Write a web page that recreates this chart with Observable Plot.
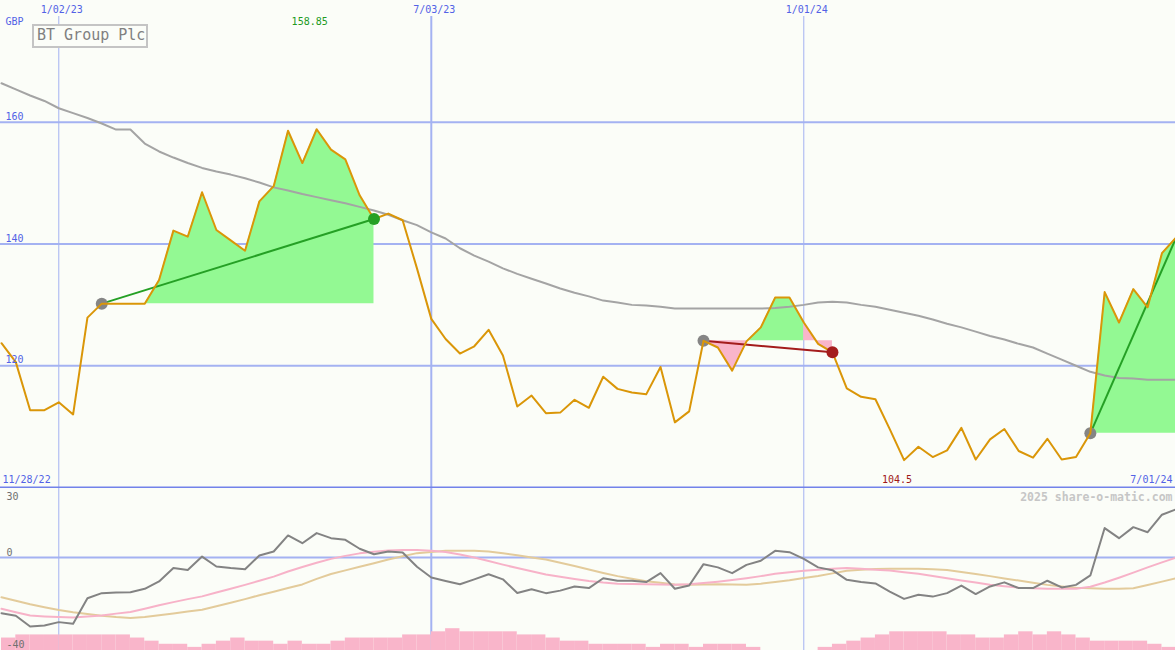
<!DOCTYPE html>
<html><head><meta charset="utf-8">
<script src="https://cdn.jsdelivr.net/npm/d3@7"></script>
<script src="https://cdn.jsdelivr.net/npm/@observablehq/plot@0.6"></script>
<style>
html,body{margin:0;padding:0;background:#fbfdf8;overflow:hidden;}
#wrap{position:relative;width:1175px;height:650px;overflow:hidden;}
#upper{position:absolute;left:0;top:0;}
#vol{position:absolute;left:0;top:488px;}
#osc{position:absolute;left:0;top:488px;}
#title{position:absolute;left:32px;top:24px;width:116px;height:24px;box-sizing:border-box;border:2px solid #c4c4c4;font:15px "DejaVu Sans Mono",monospace;color:#808080;line-height:18px;padding-left:3px;background:#fbfdf8;white-space:nowrap;}
svg{display:block}
</style></head><body>
<div id="wrap"><div id="upper"></div><div id="vol"></div><div id="osc"></div><div id="title">BT Group Plc</div></div>
<script>
// ---------- data (weekly, first week 2022-12-05) ----------
const firstWeek = "2022-12-05";
const price = [123.7,120.6,112.7,112.7,114.0,112.0,127.9,130.2,130.2,
  130.2,130.2,134.1,142.2,141.2,148.5,142.3,140.6,138.9,147.0,
  149.5,158.6,153.3,158.85,155.5,153.9,148.0,144.1,145.0,143.9,
  136.0,127.7,124.4,122.0,123.2,125.9,121.7,113.3,115.1,112.2,
  112.3,114.4,113.1,118.2,116.2,115.6,115.3,119.8,110.7,112.5,
  124.1,123.0,119.2,124.0,126.3,131.2,131.2,127.1,123.6,122.2,
  116.3,114.9,114.5,109.6,104.5,106.7,105.0,106.1,109.8,104.6,
  107.9,109.6,106.0,104.9,108.0,104.6,105.0,108.9,132.1,127.1,
  132.6,129.6,138.5,141.1];
const movingAvg = [166.4,165.4,164.4,163.5,162.3,161.5,160.7,159.8,158.8,
  158.8,156.5,155.2,154.2,153.3,152.5,151.9,151.4,150.8,150.1,
  149.3,148.8,148.2,147.7,147.2,146.7,146.1,145.5,144.8,143.9,
  143.1,141.9,140.9,139.3,138.1,137.1,136.0,135.1,134.3,133.5,
  132.7,132.0,131.4,130.7,130.4,130.0,129.9,129.7,129.4,129.4,
  129.4,129.4,129.4,129.4,129.4,129.5,129.7,130.0,130.4,130.5,
  130.4,130.0,129.7,129.2,128.7,128.2,127.6,126.9,126.3,125.6,
  124.9,124.3,123.6,123.0,122.0,121.0,120.0,119.0,118.4,118.0,
  117.9,117.7,117.7,117.7];
const oscMain = [-24.2,-25.3,-30.0,-29.6,-28.1,-28.8,-17.7,-15.5,-15.2,
  -15.1,-13.6,-10.4,-4.6,-5.4,0.4,-3.9,-4.6,-5.1,0.9,
  2.6,9.6,6.2,10.6,8.4,7.7,3.8,1.4,2.6,2.2,
  -4.0,-8.7,-10.2,-11.6,-9.5,-7.3,-9.5,-15.4,-13.8,-15.5,
  -14.4,-12.6,-13.3,-9.0,-10.1,-10.1,-10.7,-6.8,-13.6,-12.2,
  -2.9,-4.3,-6.8,-3.2,-1.4,2.9,2.3,-0.6,-4.3,-5.5,
  -9.7,-10.7,-11.3,-14.8,-18.0,-16.2,-17.0,-15.5,-12.2,-15.9,
  -12.6,-10.8,-13.3,-13.3,-10.1,-13.0,-11.9,-7.8,12.8,8.4,
  13.2,11.0,18.6,21.0];
const oscFast = [-22.3,-23.8,-25.2,-25.6,-25.9,-26.1,-25.7,-25.2,-24.4,
  -23.7,-22.3,-20.8,-19.4,-18.1,-16.9,-15.2,-13.6,-11.9,-10.1,
  -8.3,-6.1,-4.1,-2.3,-0.6,0.7,1.8,2.5,3.0,3.3,
  3.3,2.9,2.4,1.3,0.0,-1.5,-3.1,-4.6,-6.0,-7.4,
  -8.4,-9.3,-10.2,-10.9,-11.4,-11.5,-11.6,-11.7,-11.9,-11.6,
  -11.1,-10.5,-9.8,-9.0,-8.1,-7.1,-6.4,-5.8,-5.3,-4.9,
  -4.6,-4.9,-5.3,-5.7,-6.4,-7.1,-8.0,-9.0,-10.0,-10.9,
  -11.8,-12.5,-13.1,-13.4,-13.6,-13.6,-13.6,-12.7,-10.9,-8.8,
  -6.6,-4.3,-2.1,0.0];
const oscSlow = [-17.3,-18.8,-20.3,-21.6,-22.8,-23.8,-24.6,-25.3,-25.9,
  -26.3,-25.9,-25.1,-24.3,-23.5,-22.7,-21.2,-19.7,-18.1,-16.4,
  -14.9,-13.3,-11.7,-9.3,-7.2,-5.6,-4.0,-2.5,-0.9,0.5,
  1.9,2.4,2.9,2.9,2.9,2.6,1.8,1.0,0.0,-0.9,
  -2.3,-3.7,-5.2,-6.7,-8.1,-9.2,-10.3,-11.0,-11.7,-11.8,
  -11.7,-11.6,-11.7,-11.9,-11.4,-10.7,-9.9,-8.9,-8.0,-6.9,
  -5.8,-5.3,-5.0,-4.9,-4.9,-4.9,-5.1,-5.4,-6.3,-7.2,
  -8.1,-9.1,-10.0,-11.0,-11.9,-12.6,-13.2,-13.4,-13.6,-13.6,
  -13.4,-12.0,-10.5,-9.0];
// weekly volume level, one bar per week
const volumeLevel = [4, 5,5,5,5,5,5,5,5, 4, 3, 2,2, 1, 2, 3, 4, 3,3, 2, 3, 2,2, 3,
  4,4,4,4, 5,5, 6, 7, 6,6,6,6, 5,5, 4, 3,3, 2,2,2,2, 1, 2,2, 1, 2,2,2, 1,
  0,0,0,0, 1, 2, 3, 4, 5, 6,6,6,6, 5,5, 4,4, 5, 6, 5, 6, 5, 4, 3,3,3,3, 2, 1];
// trades (week index into the series: entry / exit)
const tradeEntry = [7, 49, 76];
const tradeExit = [26, 58, 82];
const tradeOutcome = ["win", "loss", "open"];
// shaded segments of each trade
const shadeFrom = [7, 49, 52, 56, 76];
const shadeTo = [26, 52, 56, 58, 82];
const shadeKind = ["up", "down", "up", "down", "up"];
const shadeTrade = [0, 1, 1, 1, 2];
// axis ticks / labels
const priceTicks = [120, 140, 160];
const oscTicks = [30, 0, -40];
const dateTicks = ["2023-01-02", "2023-07-03", "2024-01-01"];
const rangeLabels = ["11/28/22", "7/01/24"];
const currency = "GBP";
const copyright = "2025 share-o-matic.com";

// ---------- styling ----------
const BG = "#fbfdf8", GRID = "#a4b2f2", SEP = "#7282ea", BLUE = "#5262e6";
const GREEN_FILL = "#93f993", PINK = "#f9b5ca", PRICE = "#da9608", MA = "#a4a4a4";
const WIN = "#25a025", LOSS = "#a41c1c", ENTRY = "#858585";
const FONT = "DejaVu Sans Mono, monospace";

const parse = d3.utcParse("%Y-%m-%d");
const t0 = parse(firstWeek);
const dates = price.map((_, i) => d3.utcDay.offset(t0, 7 * i));
const ticks = dateTicks.map(parse);
const fmt = d3.utcFormat("%-m/%d/%y");
const xDomain = [new Date(Date.UTC(2022, 11, 4, 12, 30)), new Date(Date.UTC(2024, 5, 30, 14, 40))];

const rows = price.map((p, i) => ({date: dates[i], price: p, ma: movingAvg[i], osc: oscMain[i], fast: oscFast[i], slow: oscSlow[i]}));
const shadeRows = [];
shadeFrom.forEach((f, s) => {
  const base = price[tradeEntry[shadeTrade[s]]];
  for (let i = f; i <= shadeTo[s]; i++) shadeRows.push({date: dates[i], price: price[i], base, seg: s, kind: shadeKind[s]});
});
const trades = tradeEntry.map((e, t) => ({x1: dates[e], y1: price[e], x2: dates[tradeExit[t]], y2: price[tradeExit[t]], outcome: tradeOutcome[t]}));
const entries = tradeEntry.map(e => ({date: dates[e], price: price[e]}));
const exits = trades.filter(t => t.outcome !== "open").map(t => ({date: t.x2, price: t.y2, outcome: t.outcome}));
const iMax = d3.maxIndex(price), iMin = d3.minIndex(price);
const outcomeColor = o => o === "loss" ? LOSS : WIN;
const gridW = d => d.getUTCMonth() === 6 ? 2 : 1;

const upper = Plot.plot({
  width: 1175, height: 488, marginTop: 0, marginRight: 0, marginBottom: 1, marginLeft: 0,
  x: {type: "utc", domain: xDomain, axis: null},
  y: {domain: [100, 180], axis: null},
  color: {domain: ["up", "down"], range: [GREEN_FILL, PINK]},
  style: {background: BG, fontFamily: FONT, overflow: "visible"},
  marks: [
    Plot.ruleY(priceTicks, {stroke: GRID, strokeWidth: 2}),
    Plot.ruleX(ticks, {stroke: GRID, strokeWidth: gridW, insetTop: 16}),
    Plot.areaY(shadeRows, {x: "date", y1: "base", y2: "price", z: "seg", fill: "kind", curve: "linear"}),
    Plot.line(rows, {x: "date", y: "ma", stroke: MA, strokeWidth: 2}),
    Plot.link(trades, {x1: "x1", y1: "y1", x2: "x2", y2: "y2", stroke: d => outcomeColor(d.outcome), strokeWidth: 2}),
    Plot.dot(entries, {x: "date", y: "price", r: 6, fill: ENTRY}),
    Plot.line(rows, {x: "date", y: "price", stroke: PRICE, strokeWidth: 2}),
    Plot.dot(exits, {x: "date", y: "price", r: 6, fill: d => outcomeColor(d.outcome)}),
    Plot.ruleY([100], {stroke: SEP, strokeWidth: 2}),
    Plot.text(priceTicks, {y: d => d, text: d => String(d), frameAnchor: "left", textAnchor: "start", lineAnchor: "bottom", dx: 5, dy: -2.5, fill: BLUE, fontSize: 10}),
    Plot.text(ticks, {x: d => d, text: d => fmt(d), frameAnchor: "top", lineAnchor: "bottom", dx: 3, dy: 12.5, fill: BLUE, fontSize: 10}),
    Plot.text([currency], {text: d => d, frameAnchor: "top-left", textAnchor: "start", lineAnchor: "bottom", dx: 5, dy: 24.5, fill: BLUE, fontSize: 10}),
    Plot.text([iMax], {x: i => dates[i], text: i => String(price[i]), frameAnchor: "top", lineAnchor: "bottom", dx: -7, dy: 24.5, fill: "#229a22", fontSize: 10}),
    Plot.text([iMin], {x: i => dates[i], text: i => String(price[i]), frameAnchor: "bottom", lineAnchor: "bottom", dx: -7, dy: -4.5, fill: "#a01818", fontSize: 10}),
    Plot.text([rangeLabels[0]], {text: d => d, frameAnchor: "bottom-left", textAnchor: "start", lineAnchor: "bottom", dx: 2, dy: -4.5, fill: BLUE, fontSize: 10}),
    Plot.text([rangeLabels[1]], {text: d => d, frameAnchor: "bottom-right", textAnchor: "end", lineAnchor: "bottom", dx: -3, dy: -4.5, fill: BLUE, fontSize: 10})
  ]
});
document.getElementById("upper").append(upper);

const volRows = volumeLevel.map((v, i) => ({x1: dates[i], x2: dates[i + 1], v}));
const vol = Plot.plot({
  width: 1175, height: 162, marginTop: 0, marginRight: 0, marginBottom: 0, marginLeft: 0,
  x: {type: "utc", domain: xDomain, axis: null},
  y: {domain: [0, 52], axis: null},
  style: {background: BG, overflow: "visible"},
  marks: [
    Plot.ruleX(ticks, {stroke: GRID, strokeWidth: gridW}),
    Plot.rectY(volRows, {x1: "x1", x2: "x2", y: "v", fill: PINK})
  ]
});
document.getElementById("vol").append(vol);

const osc = Plot.plot({
  width: 1175, height: 162, marginTop: 0, marginRight: 0, marginBottom: 1, marginLeft: 0,
  x: {type: "utc", domain: xDomain, axis: null},
  y: {domain: [-40, 30], axis: null},
  style: {background: "transparent", fontFamily: FONT, overflow: "visible"},
  marks: [
    Plot.ruleY([0], {stroke: GRID, strokeWidth: 2}),
    Plot.line(rows, {x: "date", y: "slow", stroke: "#e3cb9b", strokeWidth: 2}),
    Plot.line(rows, {x: "date", y: "fast", stroke: "#f7b2c8", strokeWidth: 2}),
    Plot.line(rows, {x: "date", y: "osc", stroke: "#838383", strokeWidth: 2}),
    Plot.text(oscTicks.slice(0, 1), {y: d => d, text: d => String(d), frameAnchor: "left", textAnchor: "start", lineAnchor: "top", dx: 6, dy: 4, fill: "#707070", fontSize: 10}),
    Plot.text(oscTicks.slice(1), {y: d => d, text: d => String(d), frameAnchor: "left", textAnchor: "start", lineAnchor: "bottom", dx: 6, dy: -2, fill: "#707070", fontSize: 10}),
    Plot.text([copyright], {text: d => d, frameAnchor: "top-right", textAnchor: "end", lineAnchor: "bottom", dx: -3, dy: 12, fill: "#c6c6c6", fontSize: 11.5, fontWeight: "bold"})
  ]
});
document.getElementById("osc").append(osc);
</script></body></html>
